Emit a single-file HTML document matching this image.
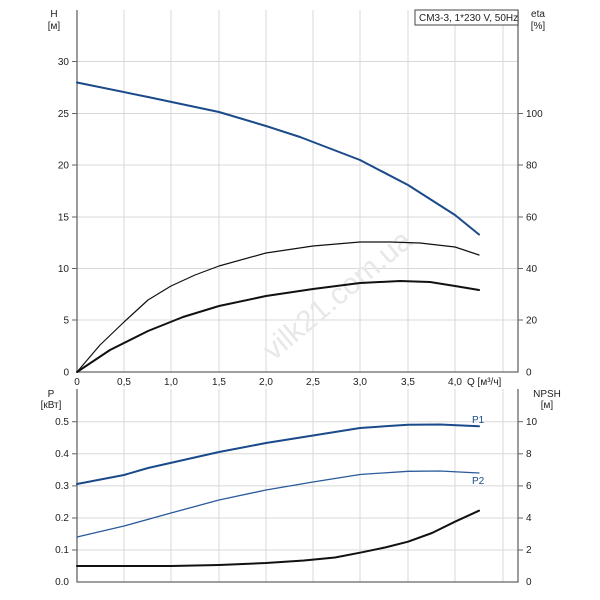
<!DOCTYPE html><html><head><meta charset="utf-8"><style>body{margin:0;background:#fff}svg{display:block;font-family:"Liberation Sans",sans-serif;font-size:10px}</style></head><body>
<svg width="600" height="600" viewBox="0 0 600 600">
<g stroke="#d8d8d8" stroke-width="1">
<line x1="124" y1="10" x2="124" y2="372"/><line x1="171" y1="10" x2="171" y2="372"/><line x1="219" y1="10" x2="219" y2="372"/><line x1="266" y1="10" x2="266" y2="372"/><line x1="313" y1="10" x2="313" y2="372"/><line x1="360" y1="10" x2="360" y2="372"/><line x1="408" y1="10" x2="408" y2="372"/><line x1="455" y1="10" x2="455" y2="372"/><line x1="503" y1="10" x2="503" y2="372"/>
<line x1="77" y1="61.5" x2="518" y2="61.5"/><line x1="77" y1="113.5" x2="518" y2="113.5"/><line x1="77" y1="165" x2="518" y2="165"/><line x1="77" y1="217" x2="518" y2="217"/><line x1="77" y1="268.5" x2="518" y2="268.5"/><line x1="77" y1="320" x2="518" y2="320"/>
<line x1="124" y1="389" x2="124" y2="582"/><line x1="171" y1="389" x2="171" y2="582"/><line x1="219" y1="389" x2="219" y2="582"/><line x1="266" y1="389" x2="266" y2="582"/><line x1="313" y1="389" x2="313" y2="582"/><line x1="360" y1="389" x2="360" y2="582"/><line x1="408" y1="389" x2="408" y2="582"/><line x1="455" y1="389" x2="455" y2="582"/><line x1="503" y1="389" x2="503" y2="582"/>
<line x1="77" y1="421.7" x2="518" y2="421.7"/><line x1="77" y1="453.8" x2="518" y2="453.8"/><line x1="77" y1="485.9" x2="518" y2="485.9"/><line x1="77" y1="518" x2="518" y2="518"/><line x1="77" y1="550" x2="518" y2="550"/>
</g>
<text x="240" y="330" transform="rotate(-40 300 300)" font-size="30" fill="#e8e8e8">vilk21.com.ua</text>
<g stroke="#666" stroke-width="1.3" fill="none">
<polyline points="77,10 77,372 518,372 518,10"/>
<polyline points="77,389 77,582 518,582 518,389"/>
</g>
<g stroke="#666"><line x1="72" y1="61.5" x2="77" y2="61.5"/><line x1="72" y1="113.5" x2="77" y2="113.5"/><line x1="72" y1="165" x2="77" y2="165"/><line x1="72" y1="217" x2="77" y2="217"/><line x1="72" y1="268.5" x2="77" y2="268.5"/><line x1="72" y1="320" x2="77" y2="320"/>
<line x1="518" y1="113.5" x2="523" y2="113.5"/><line x1="518" y1="165" x2="523" y2="165"/><line x1="518" y1="217" x2="523" y2="217"/><line x1="518" y1="268.5" x2="523" y2="268.5"/><line x1="518" y1="320" x2="523" y2="320"/>
<line x1="72" y1="421.7" x2="77" y2="421.7"/><line x1="72" y1="453.8" x2="77" y2="453.8"/><line x1="72" y1="485.9" x2="77" y2="485.9"/><line x1="72" y1="518" x2="77" y2="518"/><line x1="72" y1="550" x2="77" y2="550"/>
<line x1="518" y1="421.7" x2="523" y2="421.7"/><line x1="518" y1="453.8" x2="523" y2="453.8"/><line x1="518" y1="485.9" x2="523" y2="485.9"/><line x1="518" y1="518" x2="523" y2="518"/><line x1="518" y1="550" x2="523" y2="550"/></g>
<g fill="#222" text-anchor="end">
<text x="69" y="65">30</text><text x="69" y="117">25</text><text x="69" y="168.5">20</text><text x="69" y="220.5">15</text><text x="69" y="272">10</text><text x="69" y="323.5">5</text><text x="69" y="375.5">0</text>
<text x="69" y="425">0.5</text><text x="69" y="457">0.4</text><text x="69" y="489">0.3</text><text x="69" y="521">0.2</text><text x="69" y="553">0.1</text><text x="69" y="585">0.0</text>
</g>
<g fill="#222">
<text x="526" y="117">100</text><text x="526" y="168.5">80</text><text x="526" y="220.5">60</text><text x="526" y="272">40</text><text x="526" y="323.5">20</text><text x="526" y="375.5">0</text>
<text x="526" y="425">10</text><text x="526" y="457">8</text><text x="526" y="489">6</text><text x="526" y="521">4</text><text x="526" y="553">2</text><text x="526" y="585">0</text>
</g>
<g fill="#222" text-anchor="middle">
<text x="77" y="385">0</text><text x="124" y="385">0,5</text><text x="171" y="385">1,0</text><text x="219" y="385">1,5</text><text x="266" y="385">2,0</text><text x="313" y="385">2,5</text><text x="360" y="385">3,0</text><text x="408" y="385">3,5</text><text x="455" y="385">4,0</text>
<text x="54" y="17">H</text><text x="54" y="29">[м]</text>
<text x="538" y="17">eta</text><text x="538" y="29">[%]</text>
<text x="51" y="397">P</text><text x="51" y="408">[кВт]</text>
<text x="547" y="397">NPSH</text><text x="547" y="408">[м]</text>
</g>
<text x="467" y="385" fill="#222">Q [м³/ч]</text>
<rect x="415" y="10" width="103" height="15" fill="#fff" stroke="#444"/>
<text x="419" y="21" fill="#222">CM3-3, 1*230 V, 50Hz</text>
<g fill="none" stroke-linejoin="round" stroke-linecap="round">
<polyline stroke="#1a4a8a" stroke-width="2" points="77,82.5 148,97 219,112 266,126 300,137 360,160 408,185 455,215 479,234.5"/>
<polyline stroke="#111" stroke-width="1.2" points="77,372 100,345 124,322 148,300 171,286 195,275 219,266 266,253 313,246 360,242 390,242 420,243 455,247 479,255"/>
<polyline stroke="#111" stroke-width="2" points="77,372 110,350 148,331 183,317 219,306 266,296 313,289 360,283 400,281 430,282 455,286 479,290"/>
<polyline stroke="#1a4a8a" stroke-width="2" points="77,484 124,475 148,468 219,452 266,443 313,435.5 360,428 408,424.7 440,424.5 479,426.3"/>
<polyline stroke="#2a5a9a" stroke-width="1.3" points="77,537 124,526 171,513 219,500 266,490 313,482 360,474.5 408,471.3 440,471 479,473"/>
<polyline stroke="#111" stroke-width="2" points="77,566 171,566 219,565 266,563 304,560.5 335,557.5 360,552.7 385,547.5 408,541.7 432,533 455,521.7 479,510.7"/>
</g>
<text x="472" y="423" fill="#1a4a8a">P1</text>
<text x="472" y="484" fill="#1a4a8a">P2</text>
</svg></body></html>
